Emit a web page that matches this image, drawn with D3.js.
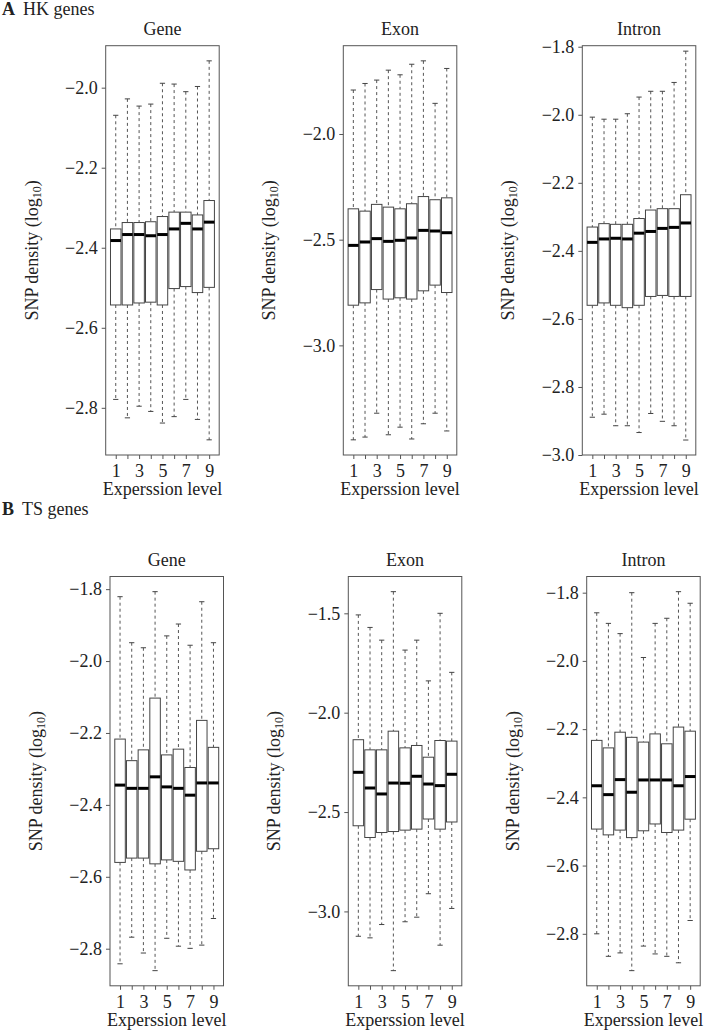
<!DOCTYPE html>
<html>
<head>
<meta charset="utf-8">
<script src="https://cdn.jsdelivr.net/npm/d3@7"></script>
<style>
  body { margin: 0; background: #fff; }
  text { font-family: "Liberation Serif", "Times New Roman", serif; fill: #222; }
</style>
</head>
<body>
<svg id="fig" width="706" height="1034"></svg>
<script>
// box stats per expression level: [lower whisker, Q1, median, Q3, upper whisker]
const levels = [1, 2, 3, 4, 5, 6, 7, 8, 9];

const hkGene = [
    [-2.779, -2.543, -2.382, -2.353, -2.069],
    [-2.825, -2.543, -2.367, -2.337, -2.028],
    [-2.796, -2.538, -2.367, -2.337, -2.046],
    [-2.809, -2.536, -2.370, -2.335, -2.041],
    [-2.838, -2.543, -2.367, -2.322, -1.989],
    [-2.822, -2.502, -2.353, -2.311, -1.991],
    [-2.779, -2.497, -2.339, -2.311, -2.010],
    [-2.829, -2.512, -2.353, -2.318, -1.997],
    [-2.880, -2.499, -2.336, -2.282, -1.933]
];
const hkExon = [
    [-3.447, -2.810, -2.527, -2.354, -1.792],
    [-3.434, -2.799, -2.511, -2.365, -1.761],
    [-3.321, -2.736, -2.495, -2.333, -1.745],
    [-3.423, -2.781, -2.508, -2.346, -1.698],
    [-3.387, -2.775, -2.503, -2.354, -1.720],
    [-3.443, -2.781, -2.492, -2.330, -1.670],
    [-3.371, -2.742, -2.456, -2.296, -1.654],
    [-3.321, -2.715, -2.459, -2.311, -1.855],
    [-3.405, -2.750, -2.467, -2.302, -1.690]
];
const hkIntron = [
    [-2.889, -2.560, -2.375, -2.330, -2.007],
    [-2.880, -2.553, -2.365, -2.320, -2.013],
    [-2.914, -2.560, -2.363, -2.322, -2.013],
    [-2.914, -2.567, -2.365, -2.322, -1.997],
    [-2.934, -2.560, -2.348, -2.305, -1.948],
    [-2.878, -2.534, -2.343, -2.280, -1.931],
    [-2.901, -2.531, -2.334, -2.276, -1.931],
    [-2.914, -2.534, -2.331, -2.276, -1.905],
    [-2.956, -2.534, -2.318, -2.235, -1.813]
];
const tsGene = [
    [-2.842, -2.560, -2.345, -2.217, -1.821],
    [-2.768, -2.548, -2.354, -2.277, -1.949],
    [-2.812, -2.548, -2.354, -2.247, -1.963],
    [-2.861, -2.564, -2.322, -2.103, -1.807],
    [-2.771, -2.553, -2.350, -2.261, -1.930],
    [-2.793, -2.557, -2.354, -2.245, -1.897],
    [-2.799, -2.581, -2.373, -2.296, -1.956],
    [-2.790, -2.529, -2.339, -2.165, -1.835],
    [-2.716, -2.522, -2.339, -2.240, -1.949]
];
const tsExon = [
    [-3.125, -2.569, -2.300, -2.136, -1.508],
    [-3.133, -2.628, -2.379, -2.187, -1.571],
    [-3.066, -2.603, -2.409, -2.187, -1.635],
    [-3.298, -2.598, -2.354, -2.093, -1.391],
    [-3.052, -2.591, -2.355, -2.177, -1.685],
    [-3.029, -2.586, -2.320, -2.165, -1.635],
    [-2.911, -2.535, -2.359, -2.224, -1.840],
    [-3.170, -2.586, -2.367, -2.140, -1.500],
    [-2.985, -2.550, -2.310, -2.143, -1.797]
];
const tsIntron = [
    [-2.800, -2.493, -2.366, -2.233, -1.859],
    [-2.866, -2.510, -2.392, -2.255, -1.890],
    [-2.856, -2.496, -2.348, -2.209, -1.920],
    [-2.908, -2.518, -2.385, -2.224, -1.800],
    [-2.836, -2.498, -2.349, -2.238, -1.990],
    [-2.859, -2.478, -2.349, -2.214, -1.890],
    [-2.866, -2.503, -2.349, -2.243, -1.875],
    [-2.885, -2.496, -2.366, -2.194, -1.797],
    [-2.761, -2.464, -2.339, -2.206, -1.831]
];

// y tick labels
const ticksTenths = [-2.8, -2.6, -2.4, -2.2, -2.0];
const ticksTenthsWide = [-2.8, -2.6, -2.4, -2.2, -2.0, -1.8];
const ticksIntronA = [-3.0, -2.8, -2.6, -2.4, -2.2, -2.0, -1.8];
const ticksHalvesA = [-3.0, -2.5, -2.0];
const ticksHalvesB = [-3.0, -2.5, -2.0, -1.5];

const c_frameW = 113.5;
const c_frameH = 409.3;
const c_font = 18;

const panels = [
    { data: hkGene, title: "Gene", ticks: ticksTenths, left: 105.7, top: 45.7 },
    { data: hkExon, title: "Exon", ticks: ticksHalvesA, left: 343.3, top: 45.7 },
    { data: hkIntron, title: "Intron", ticks: ticksIntronA, left: 582.3, top: 45.7, ylim: [-3.0, -1.797] },
    { data: tsGene, title: "Gene", ticks: ticksTenthsWide, left: 110, top: 576.5 },
    { data: tsExon, title: "Exon", ticks: ticksHalvesB, left: 348.3, top: 576.5 },
    { data: tsIntron, title: "Intron", ticks: ticksTenthsWide, left: 586.7, top: 576.5 }
];

var fmt = d3.format(".1f");

function drawPanel(svg, p) {
    var bottom = p.top + c_frameH;
    var right = p.left + c_frameW;

    // R style: data range padded by 4% unless ylim given
    var dom = p.ylim;
    if (!dom) {
        var lo = d3.min(p.data, d => d[0]), hi = d3.max(p.data, d => d[4]);
        var pad = (hi - lo) * 0.04;
        dom = [lo - pad, hi + pad];
    }
    var y = d3.scaleLinear().domain(dom).range([bottom, p.top]);
    var x = d3.scaleLinear().domain([0.14, 9.86]).range([p.left, right]);
    var boxW = x(0.9) - x(0);
    var capW = boxW * 0.5;

    var g = svg.append("g");

    // y axis
    var ya = g.append("g")
        .attr("transform", "translate(" + p.left + ",0)")
        .call(d3.axisLeft(y).tickValues(p.ticks).tickSize(4).tickPadding(4).tickFormat(fmt));
    ya.select(".domain").remove();
    ya.selectAll("line").attr("stroke", "#555");
    ya.selectAll("text").attr("font-size", c_font).style("font-family", "Liberation Serif").attr("fill", "#222");

    // x axis
    var xa = g.append("g")
        .attr("transform", "translate(0," + bottom + ")")
        .call(d3.axisBottom(x).tickValues(levels).tickSize(4).tickPadding(5)
            .tickFormat(d => d % 2 ? d : ""));
    xa.select(".domain").remove();
    xa.selectAll("line").attr("stroke", "#555");
    xa.selectAll("text").attr("font-size", c_font).style("font-family", "Liberation Serif").attr("fill", "#222");

    // frame
    g.append("rect")
        .attr("x", p.left).attr("y", p.top)
        .attr("width", c_frameW).attr("height", c_frameH)
        .attr("fill", "none").attr("stroke", "#555").attr("stroke-width", 1);

    var items = g.selectAll(".bx").data(p.data).enter().append("g").attr("class", "bx");

    // whiskers
    items.append("line")
        .attr("x1", (d, i) => x(levels[i])).attr("x2", (d, i) => x(levels[i]))
        .attr("y1", d => y(d[4])).attr("y2", d => y(d[3]))
        .attr("stroke", "#555").attr("stroke-dasharray", "3,3");
    items.append("line")
        .attr("x1", (d, i) => x(levels[i])).attr("x2", (d, i) => x(levels[i]))
        .attr("y1", d => y(d[1])).attr("y2", d => y(d[0]))
        .attr("stroke", "#555").attr("stroke-dasharray", "3,3");

    // caps
    [0, 4].forEach(function (k) {
        items.append("line")
            .attr("x1", (d, i) => x(levels[i]) - capW / 2).attr("x2", (d, i) => x(levels[i]) + capW / 2)
            .attr("y1", d => y(d[k])).attr("y2", d => y(d[k]))
            .attr("stroke", "#444");
    });

    // boxes
    items.append("rect")
        .attr("x", (d, i) => x(levels[i]) - boxW / 2)
        .attr("width", boxW)
        .attr("y", d => y(d[3]))
        .attr("height", d => y(d[1]) - y(d[3]))
        .attr("fill", "#fff").attr("stroke", "#444").attr("stroke-width", 1);

    // medians
    items.append("line")
        .attr("x1", (d, i) => x(levels[i]) - boxW / 2).attr("x2", (d, i) => x(levels[i]) + boxW / 2)
        .attr("y1", d => y(d[2])).attr("y2", d => y(d[2]))
        .attr("stroke", "#000").attr("stroke-width", 3);

    // titles and labels
    g.append("text")
        .attr("x", (p.left + right) / 2).attr("y", p.top - 15)
        .attr("text-anchor", "middle").attr("dominant-baseline", "middle")
        .attr("font-size", c_font).text(p.title);

    g.append("text")
        .attr("x", (p.left + right) / 2).attr("y", bottom + 36)
        .attr("text-anchor", "middle").attr("dominant-baseline", "middle")
        .attr("font-size", c_font).text("Experssion level");

    var yl = g.append("text")
        .attr("transform", "translate(" + (p.left - 72) + "," + (p.top + c_frameH / 2) + ") rotate(-90)")
        .attr("text-anchor", "middle").attr("dominant-baseline", "middle")
        .attr("font-size", c_font);
    yl.append("tspan").text("SNP density (log");
    yl.append("tspan").attr("font-size", 12).attr("dy", 4).text("10");
    yl.append("tspan").attr("dy", -4).text(")");
}

var svgBase = d3.select("#fig");

// section headers
[["A", "HK genes", 11], ["B", "TS genes", 511]].forEach(function (h) {
    var t = svgBase.append("text")
        .attr("x", 2).attr("y", h[2])
        .attr("dominant-baseline", "middle").attr("font-size", c_font);
    t.append("tspan").attr("font-weight", "bold").text(h[0]);
    t.append("tspan").attr("dx", 8).text(h[1]);
});

panels.forEach(p => drawPanel(svgBase, p));
</script>
</body>
</html>
